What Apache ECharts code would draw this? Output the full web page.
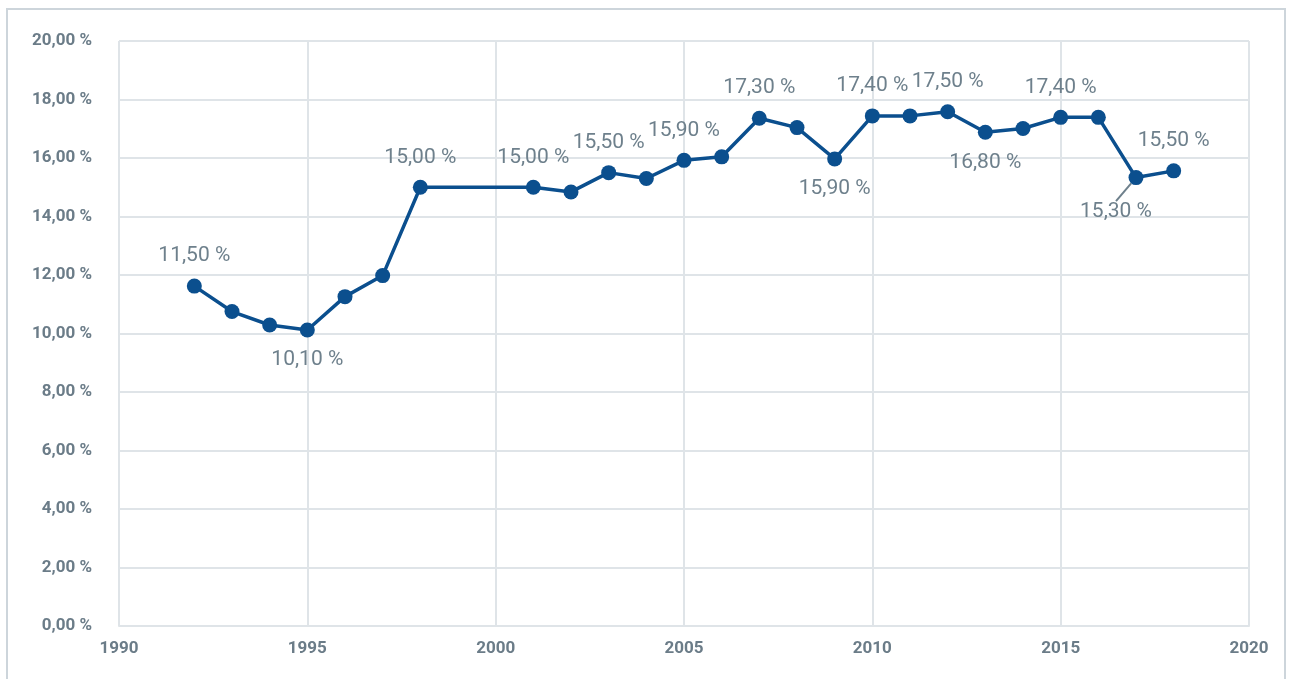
<!DOCTYPE html>
<html><head><meta charset="utf-8">
<script src="https://cdn.jsdelivr.net/npm/echarts@6/dist/echarts.min.js"></script>
<style>html,body{margin:0;padding:0;background:#fff}#c{width:1290px;height:679px}</style>
</head><body><div id="c"></div>
<script>
const years = [1992,1993,1994,1995,1996,1997,1998,2001,2002,2003,2004,2005,2006,2007,2008,2009,2010,2011,2012,2013,2014,2015,2016,2017,2018];
const values = [11.62,10.75,10.29,10.12,11.26,11.98,15.0,15.0,14.84,15.5,15.3,15.92,16.04,17.36,17.04,15.97,17.44,17.44,17.58,16.88,17.01,17.39,17.39,15.33,15.56];
const labelTexts = ['11,50 %','','','10,10 %','','','15,00 %','15,00 %','','15,50 %','','15,90 %','','17,30 %','','15,90 %','17,40 %','','17,50 %','16,80 %','','17,40 %','','15,30 %','15,50 %'];
const labelPos = ['top','','','bottom','','','top','top','','top','','top','','top','','bottom','top','','top','bottom','','top','','bottom','top'];
const yTicks = [0,2,4,6,8,10,12,14,16,18,20];

const chart = echarts.init(document.getElementById('c'));
const data = years.map((y,i)=>{
  const d = {value:[y, values[i]]};
  if (labelTexts[i]) {
    d.label = {show:true, position:labelPos[i], formatter:labelTexts[i], distance:12};
    d.labelLine = {show: i===23};
  }
  return d;
});
chart.setOption({
  animation:false,
  graphic:[{type:'rect', shape:{x:7,y:9,width:1278,height:720}, style:{fill:'none', stroke:'#cdd5db', lineWidth:2}, z:-1}],
  grid:{left:119,right:41,top:41,bottom:53},
  xAxis:{type:'value',min:1990,max:2020,interval:5,
    axisLine:{show:true,lineStyle:{color:'#dfe4e8',width:2}},
    axisTick:{show:false},
    splitLine:{show:true,lineStyle:{color:'#dfe4e8',width:2}},
    axisLabel:{color:'#6b7c88',fontSize:17,fontWeight:'bold',margin:14,fontFamily:'Roboto',formatter:v=>String(v)}},
  yAxis:{type:'value',min:0,max:20,interval:2,
    axisLine:{show:false},axisTick:{show:false},
    splitLine:{show:true,lineStyle:{color:'#dfe4e8',width:2}},
    axisLabel:{color:'#6b7c88',fontSize:17,fontWeight:'bold',margin:27,fontFamily:'Roboto',
      formatter:v=>v.toFixed(2).replace('.',',')+' %'}},
  series:[{type:'line',data:data,
    symbol:'circle',symbolSize:15,
    lineStyle:{color:'#0b4f8e',width:3.5},
    itemStyle:{color:'#0b4f8e'},
    label:{show:false,color:'#6e808c',fontSize:21,fontFamily:'Roboto'},
    labelLine:{show:false,lineStyle:{color:'#6e808c',width:2}},
    labelLayout:function(p){
      if (p.dataIndex===23) return {dx:-20,dy:4};
      return {};
    }
  }]
});
</script></body></html>
